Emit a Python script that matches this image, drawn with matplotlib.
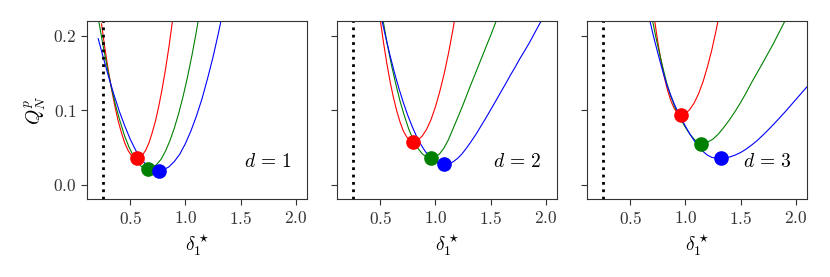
import matplotlib
matplotlib.use("Agg")
import matplotlib.pyplot as plt

plt.rcParams['font.family'] = 'serif'
plt.rcParams['font.serif'] = ['cmr10']
plt.rcParams['mathtext.fontset'] = 'cm'
plt.rcParams['axes.formatter.use_mathtext'] = True
plt.rcParams['font.size'] = 12.5
plt.rcParams['axes.edgecolor'] = '#333333'
plt.rcParams['xtick.color'] = '#333333'
plt.rcParams['ytick.color'] = '#333333'

# d = 1
red1_x = [0.24, 0.27, 0.30, 0.33, 0.36, 0.39, 0.42, 0.45, 0.48, 0.51, 0.54, 0.56, 0.58, 0.61, 0.64,
          0.67, 0.70, 0.73, 0.76, 0.79, 0.82, 0.85, 0.885]
red1_y = [0.216, 0.184, 0.155, 0.129, 0.106, 0.086, 0.070, 0.056, 0.046, 0.039, 0.0357, 0.035, 0.0357,
          0.0394, 0.046, 0.056, 0.070, 0.086, 0.106, 0.129, 0.155, 0.184, 0.222]
green1_x = [0.215, 0.25, 0.29, 0.33, 0.37, 0.41, 0.45, 0.49, 0.53, 0.57, 0.61, 0.66, 0.70, 0.74, 0.78,
            0.82, 0.86, 0.90, 0.94, 0.98, 1.02, 1.06, 1.10, 1.12]
green1_y = [0.220, 0.190, 0.159, 0.130, 0.105, 0.084, 0.065, 0.050, 0.038, 0.029, 0.023, 0.0205, 0.022,
            0.027, 0.034, 0.045, 0.059, 0.076, 0.096, 0.119, 0.145, 0.174, 0.206, 0.224]
blue1_x = [0.21, 0.25, 0.30, 0.35, 0.40, 0.45, 0.50, 0.55, 0.60, 0.65, 0.70, 0.73, 0.762, 0.80, 0.85,
           0.90, 0.95, 1.00, 1.05, 1.10, 1.15, 1.20, 1.25, 1.30, 1.33]
blue1_y = [0.196, 0.174, 0.147, 0.122, 0.099, 0.079, 0.061, 0.046, 0.034, 0.026, 0.021, 0.0195, 0.0187,
           0.0196, 0.0237, 0.031, 0.041, 0.055, 0.072, 0.092, 0.115, 0.142, 0.171, 0.204, 0.225]

# d = 2
red2_x = [0.50, 0.53, 0.56, 0.59, 0.62, 0.65, 0.68, 0.71, 0.74, 0.77, 0.80, 0.84, 0.88, 0.92, 0.96,
          1.00, 1.04, 1.08, 1.12, 1.16, 1.18]
red2_y = [0.222, 0.191, 0.163, 0.138, 0.117, 0.099, 0.084, 0.072, 0.064, 0.059, 0.0576, 0.0595, 0.065,
          0.074, 0.087, 0.104, 0.125, 0.149, 0.177, 0.209, 0.227]
green2_x = [0.524, 0.56, 0.60, 0.64, 0.68, 0.72, 0.76, 0.80, 0.84, 0.88, 0.92, 0.96, 1.00, 1.04, 1.08,
            1.12, 1.16, 1.20, 1.25, 1.31, 1.37, 1.44, 1.50, 1.56]
green2_y = [0.2226, 0.192, 0.162, 0.136, 0.112, 0.092, 0.074, 0.060, 0.049, 0.0415, 0.0368, 0.0352,
            0.0368, 0.0416, 0.0496, 0.0608, 0.075, 0.089, 0.107, 0.130, 0.152, 0.178, 0.200, 0.223]
blue2_x = [0.515, 0.55, 0.59, 0.63, 0.67, 0.71, 0.75, 0.79, 0.83, 0.87, 0.91, 0.95, 0.99, 1.03, 1.077,
           1.12, 1.16, 1.20, 1.24, 1.28, 1.325, 1.37, 1.415, 1.46, 1.505, 1.55, 1.59, 1.635, 1.68,
           1.72, 1.765, 1.81, 1.85, 1.89, 1.93, 1.97]
blue2_y = [0.221, 0.198, 0.173, 0.150, 0.129, 0.110, 0.093, 0.078, 0.0645, 0.0534, 0.0442, 0.0369,
           0.0317, 0.0284, 0.027, 0.028, 0.0305, 0.035, 0.041, 0.0486, 0.058, 0.068, 0.079, 0.090,
           0.1015, 0.113, 0.1235, 0.135, 0.147, 0.157, 0.169, 0.180, 0.190, 0.201, 0.212, 0.2226]

# d = 3
red3_x = [0.72, 0.75, 0.78, 0.81, 0.84, 0.87, 0.90, 0.93, 0.96, 1.00, 1.04, 1.08, 1.12, 1.16, 1.20,
          1.24, 1.28, 1.30]
red3_y = [0.2225, 0.192, 0.166, 0.144, 0.126, 0.112, 0.102, 0.0955, 0.0935, 0.0953, 0.1007, 0.1096,
          0.122, 0.138, 0.158, 0.181, 0.208, 0.223]
green3_x = [0.70, 0.73, 0.76, 0.795, 0.83, 0.865, 0.90, 0.93, 0.96, 1.00, 1.04, 1.07, 1.10, 1.14,
            1.17, 1.20, 1.25, 1.30, 1.35, 1.40, 1.45, 1.50, 1.55, 1.60, 1.65, 1.70, 1.75, 1.80,
            1.85, 1.90]
green3_y = [0.2226, 0.200, 0.180, 0.158, 0.137, 0.120, 0.106, 0.096, 0.087, 0.077, 0.068, 0.0625,
            0.058, 0.054, 0.055, 0.057, 0.061, 0.068, 0.077, 0.087, 0.098, 0.110, 0.123, 0.137,
            0.150, 0.163, 0.1765, 0.190, 0.2045, 0.219]
blue3_x = [0.675, 0.71, 0.75, 0.79, 0.83, 0.865, 0.90, 0.93, 0.96, 1.00, 1.04, 1.08, 1.12, 1.16,
           1.20, 1.24, 1.28, 1.32, 1.36, 1.40, 1.45, 1.50, 1.55, 1.60, 1.65, 1.70, 1.75, 1.80,
           1.85, 1.90, 1.95, 2.00, 2.05, 2.10]
blue3_y = [0.2226, 0.200, 0.177, 0.155, 0.135, 0.121, 0.108, 0.0985, 0.090, 0.0785, 0.068, 0.059,
           0.0505, 0.0445, 0.0395, 0.0365, 0.0354, 0.0352, 0.0356, 0.037, 0.0395, 0.043, 0.0475,
           0.053, 0.059, 0.066, 0.0733, 0.081, 0.089, 0.097, 0.1055, 0.114, 0.1225, 0.131]

# minima (marker positions)
min_x = [[0.56, 0.66, 0.762], [0.80, 0.96, 1.077], [0.96, 1.14, 1.32]]
min_y = [[0.035, 0.0205, 0.0187], [0.0576, 0.0352, 0.027], [0.0935, 0.054, 0.0352]]

delta_crit = 0.25
d_labels = [r'$d\,=\,1$', r'$d\,=\,2$', r'$d\,=\,3$']
colors = ['red', 'green', 'blue']

curves = [
    [(red1_x, red1_y), (green1_x, green1_y), (blue1_x, blue1_y)],
    [(red2_x, red2_y), (green2_x, green2_y), (blue2_x, blue2_y)],
    [(red3_x, red3_y), (green3_x, green3_y), (blue3_x, blue3_y)],
]

fig, axes = plt.subplots(1, 3, figsize=(8.3, 2.77), dpi=100, sharey=True)
plt.subplots_adjust(left=0.105, right=0.972, bottom=0.28, top=0.925, wspace=0.138)

for i, ax in enumerate(axes):
    for (x, y), c in zip(curves[i], colors):
        ax.plot(x, y, color=c, lw=0.8)
    for mx, my, c in zip(min_x[i], min_y[i], colors):
        ax.plot(mx, my, 'o', color=c, ms=9.5, zorder=5)
    ax.axvline(delta_crit, color='k', ls=':', lw=2)
    ax.text(0.93, 0.21, d_labels[i], transform=ax.transAxes, ha='right', va='center', fontsize=14)
    ax.set_xlim(0.11, 2.1)
    ax.set_ylim(-0.02, 0.22)
    ax.set_xticks([0.5, 1.0, 1.5, 2.0])
    ax.set_yticks([0.0, 0.1, 0.2])
    ax.set_xlabel(r'$\delta_1^\star$', fontsize=14)
    ax.tick_params(direction='out', length=4)

axes[0].set_ylabel(r'$Q_N^p$', fontsize=14)

plt.savefig('out.png', dpi=100)
